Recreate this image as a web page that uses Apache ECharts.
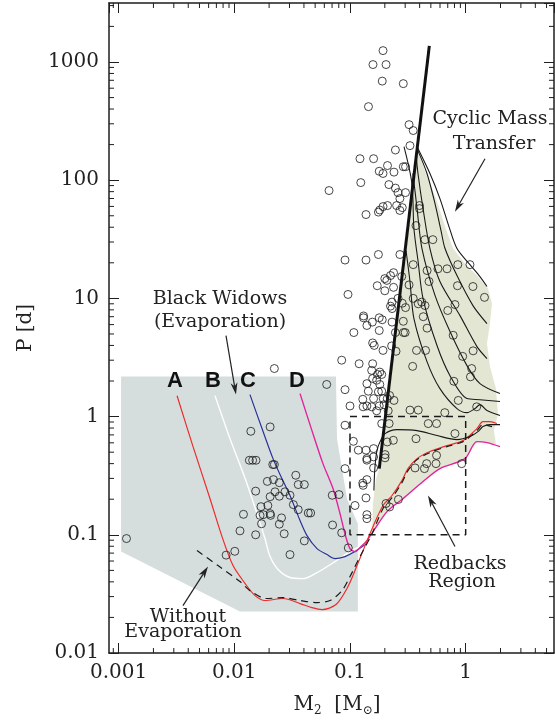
<!DOCTYPE html>
<html><head><meta charset="utf-8">
<script src="https://cdn.jsdelivr.net/npm/echarts@6/dist/echarts.min.js"></script>
<style>html,body{margin:0;padding:0;background:#fff}#c{width:555px;height:721px}</style>
</head><body><div id="c"></div>
<script>
// ---------- axis extents & ticks ----------
const X_MIN = 0.000826, X_MAX = 5.8, Y_MIN = 0.01, Y_MAX = 3155;
const xMinorTicks = [0.0009,0.002,0.003,0.004,0.005,0.006,0.007,0.008,0.009,0.02,0.03,0.04,0.05,0.06,0.07,0.08,0.09,0.2,0.3,0.4,0.5,0.6,0.7,0.8,0.9,2,3,4,5];
const yMinorTicks = [0.02,0.03,0.04,0.05,0.06,0.07,0.08,0.09,0.2,0.3,0.4,0.5,0.6,0.7,0.8,0.9,2,3,4,5,6,7,8,9,20,30,40,50,60,70,80,90,200,300,400,500,600,700,800,900,2000,3000];

// ---------- regions [M2, P] ----------
const blackWidowRegion = [[0.00105,2.18],[0.0757,2.18],[0.0772,0.651],[0.0942,0.202],[0.117,0.124],[0.117,0.0224],[0.0112,0.0224],[0.00105,0.0721]];
const cyclicRegion = [[0.380,185],[0.454,114],[0.554,69.9],[0.663,40.5],[0.777,26.4],[1.006,19.3],[1.277,15.3],[1.558,12.1],[1.688,9.04],[1.622,6.12],[1.528,4.15],[1.622,2.65],[1.827,1.73],[1.902,1.06],[1.757,0.761],[1.827,0.579],[1.498,0.603],[1.252,0.614],[0.986,0.441],[0.599,0.363],[0.428,0.282],[0.287,0.202],[0.209,0.157],[0.155,0.102],[0.158,0.184],[0.168,0.299],[0.179,0.363]];

// ---------- evolutionary tracks [M2, P] ----------
const trackA = [[0.0032,1.50],[0.0044,0.557],[0.00617,0.202],[0.00783,0.0966],[0.00975,0.0549],[0.0124,0.0387],[0.0151,0.0306],[0.0184,0.0278],[0.0264,0.0289],[0.037,0.0262],[0.0469,0.0242],[0.0573,0.0233],[0.0757,0.0257],[0.0942,0.0351],[0.115,0.0549],[0.135,0.081],[0.158,0.117],[0.193,0.177],[0.231,0.215],[0.281,0.287],[0.317,0.363],[0.380,0.441],[0.491,0.506],[0.689,0.568],[0.948,0.627],[1.25,0.792],[1.41,0.907],[1.62,0.907],[1.86,0.873]];
const trackB = [[0.00681,1.505],[0.00918,0.651],[0.0124,0.299],[0.0157,0.151],[0.0184,0.0929],[0.0204,0.0654],[0.0239,0.0508],[0.0303,0.0435],[0.0393,0.0426],[0.0519,0.0479],[0.0742,0.0593],[0.1,0.0721],[0.13,0.0826]];
const trackC = [[0.01366,1.535],[0.01736,0.792],[0.0216,0.441],[0.0258,0.299],[0.0303,0.215],[0.037,0.132],[0.0425,0.0985],[0.0519,0.0764],[0.0633,0.068],[0.0742,0.0629],[0.0905,0.0654],[0.1105,0.0721],[0.135,0.0826]];
const trackD = [[0.037,1.565],[0.0469,0.761],[0.0584,0.400],[0.0713,0.246],[0.082,0.151],[0.0905,0.102],[0.1,0.0764],[0.1105,0.0721],[0.1245,0.0795],[0.14,0.0893],[0.158,0.106],[0.209,0.157],[0.287,0.202],[0.428,0.282],[0.599,0.363],[0.986,0.441],[1.25,0.614],[1.53,0.603],[1.98,0.557]];
const noEvapTrack = [[0.00476,0.0735],[0.00723,0.0549],[0.0112,0.0402],[0.01366,0.0337],[0.0188,0.0289],[0.0264,0.0294],[0.037,0.0278],[0.0519,0.0267],[0.0672,0.0278],[0.0853,0.0337],[0.1,0.0443],[0.122,0.0654],[0.155,0.102],[0.193,0.167],[0.231,0.206],[0.281,0.276],[0.317,0.349],[0.380,0.433],[0.491,0.496],[0.689,0.557],[0.948,0.614],[1.25,0.761],[1.41,0.856],[1.69,0.823]];

// cyclic mass transfer tracks
const cyc1 = [[0.380,192],[0.491,114],[0.599,69.9],[0.717,40.5],[0.841,26.4],[1.089,19.3],[1.329,15.3],[1.528,12.6]];
const cyc2 = [[0.380,185],[0.463,114],[0.543,63.4],[0.612,37.5],[0.663,26.4],[0.841,15.6],[1.156,8.69],[1.528,6.12]];
const cyc3 = [[0.372,168],[0.387,114],[0.428,57.5],[0.491,26.4],[0.599,13.9],[0.893,7.15],[1.252,3.91],[1.528,3.10]];
const cyc4 = [[0.350,114],[0.380,57.5],[0.419,26.4],[0.543,10.6],[0.732,5.24],[1.026,2.70],[1.329,1.90],[1.979,1.565]];
const cyc5 = [[0.293,192],[0.343,93.6],[0.357,39],[0.387,20.9],[0.428,9.96],[0.565,3.99],[0.732,2.22],[1.026,1.42],[1.329,1.39],[1.979,1.34]];
const cyc6 = [[0.305,25.4],[0.330,13.9],[0.357,6.75],[0.463,2.92],[0.599,1.725],[0.841,1.169],[1.026,1.081],[1.203,1.169],[1.329,1.263],[1.528,1.124],[1.979,1.02]];
const cyc7 = [[0.161,0.237],[0.164,0.363],[0.171,0.516],[0.182,0.614],[0.201,0.718],[0.255,0.776],[0.380,0.761],[0.565,0.691],[0.841,0.639],[1.089,0.678],[1.277,0.747],[1.411,0.823],[1.622,0.856],[1.979,0.856]];

const bifurcationLine = [[0.179,0.363],[0.485,1368]];
const redbackBox = [[0.1,1],[1,1],[1,0.1],[0.1,0.1],[0.1,1]];

// ---------- observed binary pulsars [M2, P] ----------
const pulsars = [
[0.193,1248],[0.158,951],[0.205,951],[0.19,689],[0.289,656],[0.1445,419],[0.324,295],[0.352,263],[0.33,196],[0.247,180],
[0.122,152],[0.16,152],[0.211,133],[0.179,119],[0.193,114],[0.24,117],[0.289,130],[0.302,130],[0.124,95.4],[0.0659,81.7],
[0.217,91.8],[0.247,85.7],[0.26,78.5],[0.302,78.5],[0.27,69.9],[0.211,61.0],[0.193,59.8],[0.181,55.9],[0.176,53.7],[0.1375,51.2],
[0.253,61.0],[0.283,58.6],[0.27,55.5],[0.399,61.0],[0.399,57.5],[0.372,41.3],[0.445,31.4],[0.52,31.4],[0.176,23.5],[0.27,23.5],
[0.0906,21.1],[0.1375,21.1],[0.352,19.3],[0.464,17.2],[0.576,17.8],[0.69,17.8],[0.855,19.3],[1.089,19.3],[0.238,16.5],[0.224,15.6],
[0.2,14.7],[0.208,14.2],[0.28,15.3],[0.482,13.9],[0.172,12.8],[0.324,13.0],[0.2,11.6],[0.238,12.4],[0.849,12.8],[1.156,12.6],
[1.454,10.2],[0.0961,10.8],[0.352,10.0],[0.26,10.0],[0.417,9.3],[0.231,9.3],[0.283,9.1],[0.224,8.6],[0.231,8.2],[0.302,8.36],
[0.389,9.0],[0.445,8.7],[0.808,8.87],[0.70,7.9],[0.131,7.1],[0.131,6.85],[0.156,6.3],[0.179,6.85],[0.19,6.6],[0.14,5.9],
[0.231,6.3],[0.289,6.4],[0.43,7.0],[0.464,5.6],[0.179,5.35],[0.108,5.14],[0.247,5.14],[0.29,5.14],[0.30,5.14],[0.78,4.87],
[0.157,4.2],[0.162,4.0],[0.193,3.63],[0.229,3.96],[0.25,3.57],[0.376,3.63],[0.45,3.63],[1.16,3.6],[0.0848,3.0],[0.12,2.8],
[0.157,2.8],[0.348,2.66],[0.942,3.23],[1.127,2.55],[0.154,2.46],[0.181,2.38],[0.173,2.27],[0.188,2.27],[0.157,2.1],[0.17,2.03],
[0.14,1.9],[0.181,1.87],[1.1,2.17],[0.79,1.99],[0.0906,1.69],[0.144,1.64],[0.176,1.62],[0.188,1.64],[0.22,1.51],[0.863,1.37],
[0.129,1.40],[0.16,1.42],[0.194,1.42],[0.21,1.42],[0.24,1.37],[0.10,1.23],[0.13,1.21],[0.14,1.23],[0.154,1.21],[0.179,1.23],
[0.197,1.26],[0.33,1.135],[0.389,1.135],[0.66,1.08],[1.245,1.21],[0.17,1.12],[0.214,1.12],[0.0906,0.845],[0.188,0.873],[0.218,0.873],
[0.475,0.873],[0.56,0.873],[0.808,0.718],[0.107,0.618],[0.21,0.61],[0.237,0.63],[0.372,0.65],[0.118,0.52],[0.1375,0.52],[0.16,0.536],
[0.14,0.4415],[0.16,0.456],[0.14,0.428],[0.201,0.477],[0.201,0.448],[0.56,0.47],[0.46,0.40],[0.365,0.368],[0.44,0.363],[0.554,0.40],
[0.924,0.40],[0.0906,0.363],[0.16,0.368],[0.14,0.293],[0.129,0.274],[0.13,0.262],[0.1375,0.205],[0.1105,0.177],[0.205,0.184],[0.22,0.172],
[0.262,0.199],[0.14,0.148],[0.14,0.137],
[0.0222,2.55],[0.0629,1.87],[0.0139,0.751],[0.0204,0.818],[0.0135,0.427],[0.0144,0.427],[0.0154,0.427],[0.0215,0.393],[0.0222,0.393],
[0.034,0.319],[0.0193,0.283],[0.0218,0.293],[0.0245,0.276],[0.0357,0.266],[0.0403,0.266],[0.0153,0.234],[0.0225,0.231],[0.0204,0.21],[0.0245,0.212],
[0.0274,0.231],[0.0303,0.216],[0.0324,0.18],[0.0357,0.163],[0.017,0.173],[0.0195,0.177],[0.0167,0.146],[0.0178,0.148],[0.0204,0.151],[0.0206,0.146],
[0.012,0.149],[0.0436,0.153],[0.0457,0.153],[0.0172,0.124],[0.0256,0.139],[0.0245,0.123],[0.0703,0.216],[0.0804,0.219],[0.0707,0.121],[0.0848,0.104],
[0.0112,0.108],[0.0153,0.100],[0.027,0.102],[0.0403,0.0888],[0.0967,0.0775],[0.0101,0.0725],[0.0085,0.0673],[0.0303,0.068],[0.00117,0.0929]
];

// ---------- annotations ----------
const noteText = ['Cyclic Mass','Transfer','Black Widows','(Evaporation)','Without','Evaporation','Redbacks','Region'];
const notePos = [[1.622,332],[1.757,204],[0.00752,9.96],[0.00752,6.36],[0.00398,0.0203],[0.0036,0.0149],[0.893,0.056],[0.929,0.0402]];
const trackLetters = ['A','B','C','D'];
const letterPos = [[0.00307,2.02],[0.00654,2.02],[0.01313,2.02],[0.03483,2.02]];
const arrowFrom = [[1.469,152],[0.00848,4.85],[0.0036,0.0252],[0.808,0.0795]];
const arrowTo = [[0.808,54.2],[0.01034,1.535],[0.005925,0.0538],[0.472,0.215]];

// ---------- chart ----------
const chart = echarts.init(document.getElementById('c'), null, {renderer:'canvas'});
const INK = '#1e1e1e';
const LABEL_FONT = 'DejaVu Serif';
const fmt = v => String(parseFloat((+v).toPrecision(4)));

function axisBase(extra){
  return Object.assign({
    type:'log', logBase:10,
    axisLine:{show:true, onZero:false, lineStyle:{color:INK, width:1.5}},
    axisTick:{show:true, inside:true, length:10, lineStyle:{color:INK, width:1}},
    minorTick:{show:false}, splitLine:{show:false}
  }, extra);
}

function polygonSeries(points, fill){
  return {
    type:'custom', z:1, silent:true, data:[points[0]],
    renderItem:(params, api)=>({
      type:'polygon',
      shape:{points: points.map(p=>api.coord(p))},
      style:{fill: fill}
    })
  };
}
function lineSeries(data, color, width, type, z){
  return {type:'line', data:data, showSymbol:false, symbol:'none', smooth:0.3, z:z||2, silent:true,
    lineStyle:{color:color, width:width, type:type||'solid'}};
}

const option = {
  animation:false,
  backgroundColor:'#fff',
  grid:{left:109, right:1, top:3, bottom:68, containLabel:false, outerBoundsMode:'none'},
  xAxis:[
    axisBase({position:'bottom', min:X_MIN, max:X_MAX,
      axisLabel:{show:true, margin:10, fontFamily:LABEL_FONT, fontSize:20, color:'#222', showMinLabel:false, showMaxLabel:false, formatter:fmt}}),
    axisBase({position:'top', min:X_MIN, max:X_MAX, axisLabel:{show:false}})
  ],
  yAxis:[
    axisBase({position:'left', min:Y_MIN, max:Y_MAX,
      axisLabel:{show:true, margin:10, fontFamily:LABEL_FONT, fontSize:20, color:'#222', showMinLabel:true, showMaxLabel:false, formatter:fmt}}),
    axisBase({position:'right', min:Y_MIN, max:Y_MAX, axisLabel:{show:false}})
  ],
  graphic:[
    {type:'text', x:26, y:328, rotation:Math.PI/2, style:{text:'P [d]', font:'20px "DejaVu Serif"', fill:'#222', align:'center', verticalAlign:'middle'}},
    {type:'text', x:337, y:705, style:{
      text:'{m|M}{s|2}{m|  [M}{s|⊙}{m|]}', align:'center', verticalAlign:'middle',
      rich:{m:{fontFamily:LABEL_FONT, fontSize:20, fill:'#222', color:'#222'}, s:{fontFamily:LABEL_FONT, fontSize:12, fill:'#222', color:'#222', padding:[11,0,0,0]}}
    }}
  ],
  series:[
    polygonSeries(blackWidowRegion, '#d6dedd'),
    polygonSeries(cyclicRegion, '#e4e6d4'),
    lineSeries(trackB, '#ffffff', 1.4),
    lineSeries(trackC, '#2a3199', 1.2),
    lineSeries(trackD, '#e2239c', 1.4),
    lineSeries(trackA, '#ee2b2b', 1.2),
    lineSeries(noEvapTrack, '#1a1a1a', 1.2, [7,5], 3),
    lineSeries(cyc1, '#1a1a1a', 1.1),
    lineSeries(cyc2, '#1a1a1a', 1.1),
    lineSeries(cyc3, '#1a1a1a', 1.1),
    lineSeries(cyc4, '#1a1a1a', 1.1),
    lineSeries(cyc5, '#1a1a1a', 1.1),
    lineSeries(cyc6, '#1a1a1a', 1.1),
    lineSeries(cyc7, '#1a1a1a', 1.1),
    {type:'line', data:redbackBox, showSymbol:false, symbol:'none', z:3, silent:true, lineStyle:{color:'#1a1a1a', width:1.5, type:[7,5]}},
    {type:'line', data:bifurcationLine, showSymbol:false, symbol:'none', z:4, silent:true, lineStyle:{color:'#111', width:3}},
    {type:'scatter', data:pulsars, symbol:'circle', symbolSize:8, z:5, silent:true,
      itemStyle:{color:'rgba(0,0,0,0)', borderColor:'#1a1a1a', borderWidth:1}},
    // minor ticks (x: bottom & top)
    {type:'custom', z:6, silent:true, data:xMinorTicks.map(v=>[v, Y_MIN]),
      renderItem:(params, api)=>{
        const v = api.value(0);
        const b = api.coord([v, Y_MIN]), t = api.coord([v, Y_MAX]);
        return {type:'group', children:[
          {type:'line', shape:{x1:b[0], y1:b[1], x2:b[0], y2:b[1]-5}, style:{stroke:INK, lineWidth:1}},
          {type:'line', shape:{x1:t[0], y1:t[1], x2:t[0], y2:t[1]+5}, style:{stroke:INK, lineWidth:1}}
        ]};
      }},
    // minor ticks (y: left & right)
    {type:'custom', z:6, silent:true, data:yMinorTicks.map(v=>[X_MIN, v]),
      renderItem:(params, api)=>{
        const v = api.value(1);
        const l = api.coord([X_MIN, v]), r = api.coord([X_MAX, v]);
        return {type:'group', children:[
          {type:'line', shape:{x1:l[0], y1:l[1], x2:l[0]+5, y2:l[1]}, style:{stroke:INK, lineWidth:1}},
          {type:'line', shape:{x1:r[0], y1:r[1], x2:r[0]-5, y2:r[1]}, style:{stroke:INK, lineWidth:1}}
        ]};
      }},
    // arrows
    {type:'custom', z:7, silent:true, data:arrowFrom.map((p,i)=>[p[0], p[1], arrowTo[i][0], arrowTo[i][1]]),
      renderItem:(params, api)=>{
        const s = api.coord([api.value(0), api.value(1)]);
        const e = api.coord([api.value(2), api.value(3)]);
        const dx = e[0]-s[0], dy = e[1]-s[1], L = Math.hypot(dx,dy), ux = dx/L, uy = dy/L;
        const hl = 12, hw = 3.5, nx = -uy, ny = ux;
        const bx = e[0]-ux*hl, by = e[1]-uy*hl;
        const notch = [e[0]-ux*hl*0.7, e[1]-uy*hl*0.7];
        return {type:'group', children:[
          {type:'line', shape:{x1:s[0], y1:s[1], x2:notch[0], y2:notch[1]}, style:{stroke:'#222', lineWidth:1.2}},
          {type:'polygon', shape:{points:[e,[bx+nx*hw, by+ny*hw], notch, [bx-nx*hw, by-ny*hw]]}, style:{fill:'#222'}}
        ]};
      }},
    // text notes
    {type:'custom', z:8, silent:true, data:notePos.map((p,i)=>[p[0], p[1], i]),
      renderItem:(params, api)=>{
        const c = api.coord([api.value(0), api.value(1)]);
        return {type:'text', x:c[0], y:c[1], style:{text:noteText[api.value(2)], font:'19px "DejaVu Serif"', fill:'#222', align:'center', verticalAlign:'middle'}};
      }},
    {type:'custom', z:8, silent:true, data:letterPos.map((p,i)=>[p[0], p[1], i]),
      renderItem:(params, api)=>{
        const c = api.coord([api.value(0), api.value(1)]);
        return {type:'text', x:c[0], y:c[1], style:{text:trackLetters[api.value(2)], font:'bold 22px "Liberation Sans"', fill:'#111', align:'center', verticalAlign:'middle'}};
      }}
  ]
};
chart.setOption(option);
</script>
</body></html>
